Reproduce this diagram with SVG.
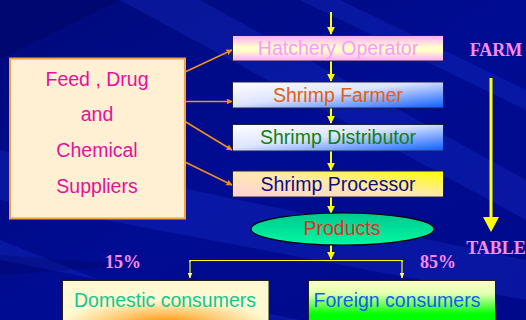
<svg xmlns="http://www.w3.org/2000/svg" width="526" height="320" viewBox="0 0 526 320">
<defs>
<linearGradient id="bg" x1="0" y1="0" x2="1" y2="1">
<stop offset="0" stop-color="#000a7a"/>
<stop offset="0.5" stop-color="#000c92"/>
<stop offset="1" stop-color="#00098a"/>
</linearGradient>
<linearGradient id="gHatch" x1="0" y1="0" x2="0" y2="1">
<stop offset="0" stop-color="#ffa8ff"/>
<stop offset="0.45" stop-color="#ffffc8"/>
<stop offset="0.6" stop-color="#ffffc8"/>
<stop offset="1" stop-color="#ffa8ff"/>
</linearGradient>
<linearGradient id="gBlue" x1="0" y1="0" x2="1" y2="1">
<stop offset="0" stop-color="#ffffff"/>
<stop offset="0.45" stop-color="#dde4ff"/>
<stop offset="1" stop-color="#0a5cff"/>
</linearGradient>
<linearGradient id="gProc" x1="0" y1="1" x2="1" y2="0">
<stop offset="0" stop-color="#ffd0d8"/>
<stop offset="0.5" stop-color="#ffe8b0"/>
<stop offset="1" stop-color="#ffff00"/>
</linearGradient>
<linearGradient id="gForeign" x1="0" y1="0" x2="0" y2="1">
<stop offset="0" stop-color="#ffffc8"/>
<stop offset="0.3" stop-color="#e0ffb0"/>
<stop offset="0.75" stop-color="#00ff00"/>
<stop offset="1" stop-color="#00ff00"/>
</linearGradient>
<radialGradient id="gDom" cx="0.5" cy="0.95" r="0.5" fx="0.5" fy="0.95">
<stop offset="0" stop-color="#ff9000"/>
<stop offset="0.5" stop-color="#ffc870"/>
<stop offset="1" stop-color="#fff8d0"/>
</radialGradient>
<linearGradient id="gProd" x1="0" y1="0" x2="0" y2="1">
<stop offset="0" stop-color="#00c890"/>
<stop offset="1" stop-color="#00f8a0"/>
</linearGradient>
<marker id="ya" viewBox="0 0 10 10" refX="9" refY="5" markerWidth="4" markerHeight="4" orient="auto">
<path d="M0,0 L10,5 L0,10 z" fill="#ffff00"/>
</marker>
<marker id="oa" viewBox="0 0 10 10" refX="9" refY="5" markerWidth="4" markerHeight="4" orient="auto">
<path d="M0,0 L10,5 L0,10 z" fill="#f09020"/>
</marker>
<marker id="ya2" viewBox="0 0 10 10" refX="9" refY="5" markerWidth="5" markerHeight="5" orient="auto">
<path d="M0,1 L10,5 L0,9 z" fill="#ffff80"/>
</marker>
</defs>
<style>
.box{stroke:#202040;stroke-width:1}
.t{font-family:"Liberation Sans",Arial,sans-serif;font-size:19.5px;text-anchor:middle;dominant-baseline:central}
.s{font-family:"Liberation Serif","Times New Roman",serif;font-weight:bold;font-size:18px;fill:#ff88ee;text-anchor:middle;dominant-baseline:central}
.y{stroke:#ffff00;stroke-width:2;fill:none}
.o{stroke:#f09020;stroke-width:1.5;fill:none}
</style>
<rect width="526" height="320" fill="url(#bg)"/>
<g opacity="0.18" fill="#3050ff">
<polygon points="120,0 200,0 526,180 526,220"/>
<polygon points="300,0 340,0 526,90 526,110"/>
<polygon points="0,150 0,200 526,300 526,260"/>
<polygon points="0,240 0,260 300,320 200,320"/>
</g>
<g opacity="0.25" fill="#000050">
<polygon points="0,0 120,0 0,60"/>
<polygon points="0,255 140,265 0,275"/>
</g>

<g id="connectors">
<line class="y" x1="331" y1="12" x2="331" y2="34" marker-end="url(#ya)"/>
<line class="y" x1="331" y1="61" x2="331" y2="81" marker-end="url(#ya)"/>
<line class="y" x1="331" y1="108" x2="331" y2="123" marker-end="url(#ya)"/>
<line class="y" x1="331" y1="151" x2="331" y2="170" marker-end="url(#ya)"/>
<line class="y" x1="331" y1="197" x2="331" y2="213" marker-end="url(#ya)"/>
<line class="y" x1="331" y1="245" x2="331" y2="259" marker-end="url(#ya)"/>
<polyline points="190,262 190,260.5 402,260.5 402,262" fill="none" stroke="#ffff00" stroke-width="1.2"/>
<line x1="190" y1="260" x2="190" y2="278" stroke="#ffff00" stroke-width="1.2" marker-end="url(#ya2)"/>
<line x1="402" y1="260" x2="402" y2="278" stroke="#ffff00" stroke-width="1.2" marker-end="url(#ya2)"/>
<line class="o" x1="185" y1="72" x2="232" y2="50" marker-end="url(#oa)"/>
<line class="o" x1="185" y1="101.5" x2="232" y2="101.5" marker-end="url(#oa)"/>
<line class="o" x1="185" y1="121.5" x2="232" y2="150" marker-end="url(#oa)"/>
<line class="o" x1="185" y1="162" x2="232" y2="185" marker-end="url(#oa)"/>
<line x1="491" y1="78" x2="491" y2="218" stroke="#ffff00" stroke-width="3"/>
<polygon points="483,217 499,217 491,232" fill="#ffff00"/>
</g>

<g id="feed">
<rect x="10" y="58.5" width="175" height="160" fill="#fff0d4" stroke="#f4a040" stroke-width="2"/>
<text class="t" x="97" y="79" fill="#e8109a">Feed , Drug</text>
<text class="t" x="97" y="114" fill="#e8109a">and</text>
<text class="t" x="97" y="150" fill="#e8109a">Chemical</text>
<text class="t" x="97" y="186" fill="#e8109a">Suppliers</text>
</g>

<g id="hatchery">
<rect class="box" x="232.5" y="35.5" width="211" height="25.5" fill="url(#gHatch)"/>
<text class="t" x="338" y="48" fill="#ff99ff">Hatchery Operator</text>
</g>
<g id="farmer">
<rect class="box" x="232.5" y="82" width="211" height="26" fill="url(#gBlue)"/>
<text class="t" x="338" y="95" fill="#e06010">Shrimp Farmer</text>
</g>
<g id="distributor">
<rect class="box" x="232.5" y="124.5" width="211" height="26.5" fill="url(#gBlue)"/>
<text class="t" x="338" y="137" fill="#108010">Shrimp Distributor</text>
</g>
<g id="processor">
<rect class="box" x="232.5" y="171" width="211" height="26" fill="url(#gProc)"/>
<text class="t" x="338" y="184" fill="#101080">Shrimp Processor</text>
</g>
<g id="products">
<ellipse cx="342.5" cy="229" rx="91.5" ry="16" fill="url(#gProd)" stroke="#000" stroke-width="1.2"/>
<text class="t" x="342" y="228" fill="#e03020">Products</text>
</g>

<g id="farm"><text class="s" x="496" y="50">FARM</text></g>
<g id="table"><text class="s" x="496" y="248">TABLE</text></g>
<g id="p15"><text class="s" x="123" y="262">15%</text></g>
<g id="p85"><text class="s" x="438" y="262">85%</text></g>

<g id="domestic">
<rect x="62.5" y="280.5" width="206.5" height="45" fill="url(#gDom)" stroke="#202020" stroke-width="1"/>
<text class="t" x="165" y="300" fill="#10c890">Domestic consumers</text>
</g>
<g id="foreign">
<rect x="308.5" y="280.5" width="187" height="45" fill="url(#gForeign)" stroke="#202020" stroke-width="1"/>
<text class="t" x="397" y="300" fill="#1060f0">Foreign consumers</text>
</g>
</svg>
